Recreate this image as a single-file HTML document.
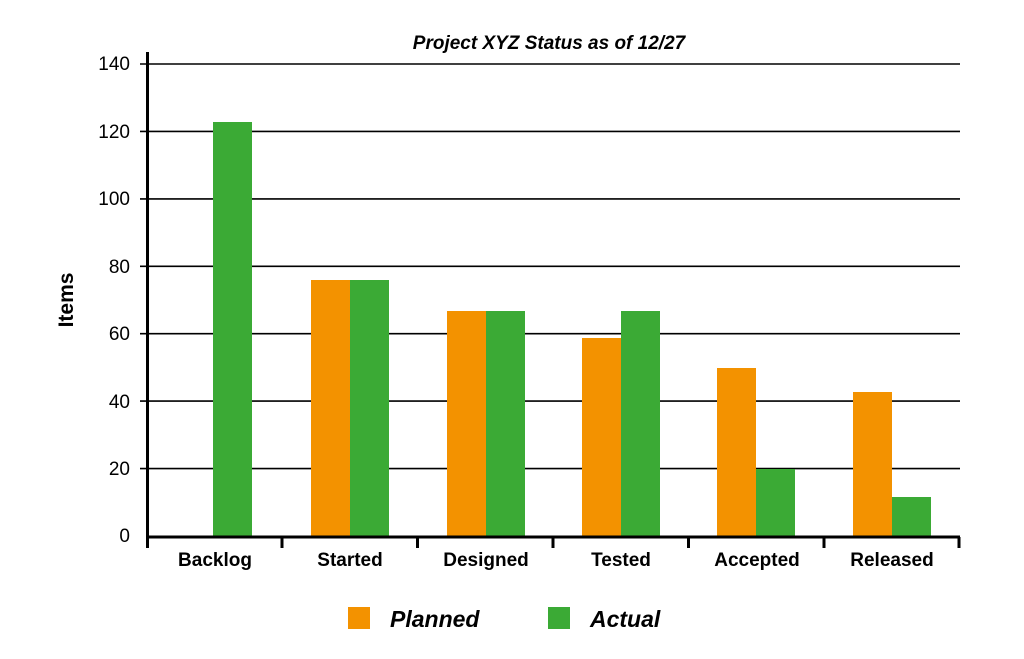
<!DOCTYPE html>
<html><head><style>body{margin:0;background:#fff}svg{display:block}</style></head><body>
<svg width="1024" height="659" xmlns="http://www.w3.org/2000/svg" font-family="Liberation Sans, sans-serif">
<rect width="1024" height="659" fill="#fff"/>
<text x="549" y="49" text-anchor="middle" font-size="19" font-weight="bold" font-style="italic">Project XYZ Status as of 12/27</text>
<g stroke="#000" stroke-width="1.6">
<line x1="140" y1="64" x2="960" y2="64"/>
<line x1="140" y1="131.4" x2="960" y2="131.4"/>
<line x1="140" y1="198.9" x2="960" y2="198.9"/>
<line x1="140" y1="266.3" x2="960" y2="266.3"/>
<line x1="140" y1="333.7" x2="960" y2="333.7"/>
<line x1="140" y1="401.1" x2="960" y2="401.1"/>
<line x1="140" y1="468.6" x2="960" y2="468.6"/>
</g>
<g font-size="19" text-anchor="end">
<text x="130" y="70">140</text><text x="130" y="138">120</text><text x="130" y="205">100</text>
<text x="130" y="273">80</text><text x="130" y="340">60</text><text x="130" y="408">40</text>
<text x="130" y="475">20</text><text x="130" y="542">0</text>
</g>
<text transform="translate(73,300) rotate(-90)" text-anchor="middle" font-size="21" font-weight="bold">Items</text>
<g fill="#F39200">
<rect x="311" y="280" width="39" height="256"/>
<rect x="447" y="311" width="39" height="225"/>
<rect x="582" y="338" width="39" height="198"/>
<rect x="717" y="368" width="39" height="168"/>
<rect x="853" y="392" width="39" height="144"/>
</g>
<g fill="#3BAA35">
<rect x="213" y="122" width="39" height="414"/>
<rect x="350" y="280" width="39" height="256"/>
<rect x="486" y="311" width="39" height="225"/>
<rect x="621" y="311" width="39" height="225"/>
<rect x="756" y="469" width="39" height="67"/>
<rect x="892" y="497" width="39" height="39"/>
</g>
<g stroke="#000" stroke-width="3">
<line x1="147.5" y1="52" x2="147.5" y2="548"/>
<line x1="146" y1="537" x2="960" y2="537"/>
<line x1="282" y1="537" x2="282" y2="548"/>
<line x1="417.5" y1="537" x2="417.5" y2="548"/>
<line x1="553" y1="537" x2="553" y2="548"/>
<line x1="688.5" y1="537" x2="688.5" y2="548"/>
<line x1="824" y1="537" x2="824" y2="548"/>
<line x1="959" y1="537" x2="959" y2="548"/>
</g>
<g font-size="19" font-weight="bold" text-anchor="middle">
<text x="215" y="566">Backlog</text><text x="350" y="566">Started</text>
<text x="486" y="566">Designed</text><text x="621" y="566">Tested</text>
<text x="757" y="566">Accepted</text><text x="892" y="566">Released</text>
</g>
<rect x="348" y="607" width="22" height="22" fill="#F39200"/>
<rect x="548" y="607" width="22" height="22" fill="#3BAA35"/>
<g font-size="23" font-weight="bold" font-style="italic">
<text x="390" y="627">Planned</text><text x="590" y="627">Actual</text>
</g>
</svg>
</body></html>
